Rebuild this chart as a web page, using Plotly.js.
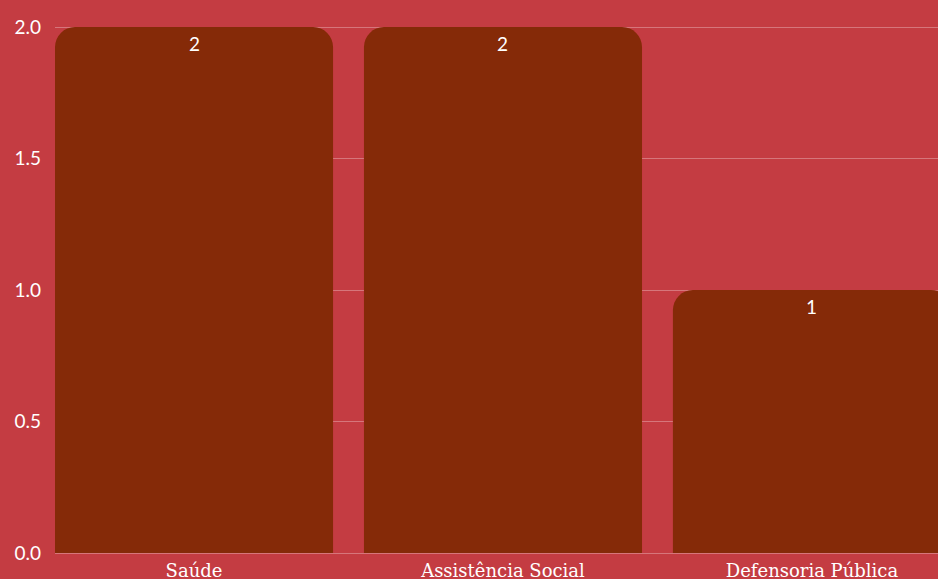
<!DOCTYPE html>
<html>
<head>
<meta charset="utf-8">
<script src="https://cdn.plot.ly/plotly-3.0.1.min.js"></script>
<style>html,body{margin:0;padding:0;background:#C43C42;}#chart{width:938px;height:579px;}</style>
</head>
<body>
<div id="chart"></div>
<script>
const categories = ["Saúde", "Assistência Social", "Defensoria Pública"];
const values = [2, 2, 1];
const yTickVals = [0, 0.5, 1, 1.5, 2];
const yTickText = ["0.0", "0.5", "1.0", "1.5", "2.0"];

const trace = {
  type: "bar",
  x: [0, 1, 2],
  y: values,
  marker: {color: "#852A08", line: {width: 0}},
  hoverinfo: "none"
};

const annotations = values.map((v, i) => ({
  x: i,
  y: v,
  xref: "x",
  yref: "y",
  text: String(v),
  showarrow: false,
  yanchor: "top",
  yshift: -3,
  font: {family: "Lato", size: 19, color: "#ffffff"}
}));

const layout = {
  width: 938,
  height: 579,
  paper_bgcolor: "#C43C42",
  plot_bgcolor: "#C43C42",
  margin: {l: 55, r: 0, t: 26, b: 26, pad: 0},
  bargap: 0.1,
  barcornerradius: 20,
  showlegend: false,
  annotations: annotations,
  xaxis: {
    range: [-0.45, 2.408],
    tickmode: "array",
    tickvals: [0, 1, 2],
    ticktext: categories,
    showgrid: false,
    zeroline: false,
    showline: false,
    ticks: "",
    tickfont: {family: "DejaVu Serif", size: 18, color: "#ffffff"},
    ticklabelstandoff: 5,
    fixedrange: true
  },
  yaxis: {
    range: [0, 2.004],
    tickmode: "array",
    tickvals: yTickVals,
    ticktext: yTickText,
    showgrid: true,
    gridcolor: "rgba(255,255,255,0.3)",
    gridwidth: 1,
    zeroline: true,
    zerolinecolor: "rgba(255,255,255,0.3)",
    showline: false,
    ticks: "",
    tickfont: {family: "Lato", size: 19, color: "#ffffff"},
    ticklabelstandoff: 13,
    fixedrange: true
  }
};

Plotly.newPlot("chart", [trace], layout, {displayModeBar: false, staticPlot: true});
</script>
</body>
</html>
